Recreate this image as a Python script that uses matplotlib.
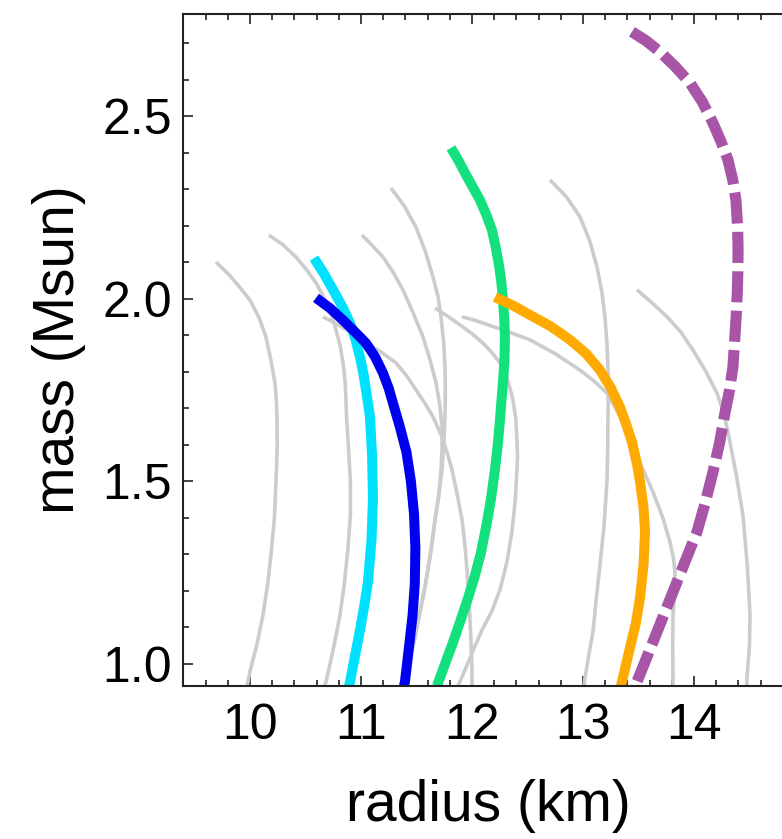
import matplotlib
matplotlib.use("Agg")
import matplotlib.pyplot as plt
from matplotlib.ticker import MultipleLocator

plt.rcParams['font.family'] = ['Liberation Sans', 'DejaVu Sans']

# ---- gray background M-R curves (radius km, mass Msun) ----
g1_r = [9.694, 9.80, 9.90, 10.00, 10.08, 10.144, 10.19, 10.225, 10.238, 10.243, 10.245, 10.240, 10.234,
        10.22, 10.189, 10.16, 10.117, 10.06, 10.00, 9.975]
g1_m = [2.101, 2.07, 2.035, 1.997, 1.95, 1.896, 1.83, 1.770, 1.72, 1.677, 1.60, 1.54, 1.499,
        1.40, 1.299, 1.22, 1.134, 1.05, 0.98, 0.94]
g2_r = [10.171, 10.30, 10.414, 10.51, 10.595, 10.665, 10.721, 10.77, 10.811, 10.838, 10.856, 10.865, 10.870,
        10.89, 10.905, 10.905, 10.883, 10.85, 10.811, 10.75, 10.685, 10.67]
g2_m = [2.175, 2.148, 2.115, 2.08, 2.044, 2.005, 1.970, 1.92, 1.874, 1.826, 1.778, 1.72, 1.677,
        1.58, 1.499, 1.41, 1.318, 1.22, 1.134, 1.04, 0.951, 0.94]
g3_r = [10.658, 10.73, 10.811, 10.93, 11.045, 11.18, 11.315, 11.41, 11.495, 11.575, 11.649, 11.730, 11.78,
        11.820, 11.87, 11.910, 11.935, 11.955, 11.970, 11.982, 11.993, 12.000, 12.0]
g3_m = [1.951, 1.940, 1.926, 1.905, 1.879, 1.855, 1.825, 1.79, 1.751, 1.715, 1.677, 1.622, 1.575,
        1.532, 1.46, 1.395, 1.33, 1.258, 1.19, 1.121, 1.05, 0.984, 0.94]
g4_r = [11.009, 11.10, 11.198, 11.29, 11.378, 11.47, 11.559, 11.625, 11.676, 11.71, 11.730, 11.731, 11.721,
        11.70, 11.667, 11.625, 11.577, 11.53, 11.486, 11.45, 11.423, 11.405]
g4_m = [2.175, 2.147, 2.115, 2.073, 2.025, 1.962, 1.896, 1.83, 1.770, 1.71, 1.649, 1.59, 1.532,
        1.46, 1.395, 1.30, 1.211, 1.14, 1.074, 1.025, 0.984, 0.94]
g5_r = [11.270, 11.39, 11.495, 11.58, 11.649, 11.695, 11.721, 11.745, 11.757, 11.760, 11.757, 11.745, 11.73,
        11.70, 11.667, 11.625, 11.577, 11.53, 11.486, 11.45, 11.423, 11.405]
g5_m = [2.304, 2.255, 2.197, 2.13, 2.060, 2.005, 1.951, 1.88, 1.814, 1.745, 1.677, 1.60, 1.532,
        1.46, 1.395, 1.30, 1.211, 1.14, 1.074, 1.025, 0.984, 0.94]
g6_r = [11.667, 11.78, 11.892, 12.00, 12.099, 12.18, 12.252, 12.32, 12.369, 12.395, 12.405, 12.410, 12.405,
        12.39, 12.360, 12.315, 12.252, 12.18, 12.090, 12.00, 11.910, 11.874]
g6_m = [1.975, 1.953, 1.929, 1.905, 1.879, 1.853, 1.825, 1.78, 1.723, 1.67, 1.614, 1.57, 1.532,
        1.45, 1.362, 1.28, 1.203, 1.145, 1.093, 1.03, 0.964, 0.94]
g7_r = [11.910, 12.00, 12.099, 12.31, 12.523, 12.75, 12.973, 13.10, 13.216, 13.33, 13.423, 13.53, 13.631,
        13.72, 13.784, 13.815, 13.829, 13.825, 13.811, 13.808, 13.811, 13.811]
g7_m = [1.951, 1.944, 1.934, 1.912, 1.888, 1.85, 1.805, 1.775, 1.742, 1.68, 1.608, 1.54, 1.471,
        1.40, 1.334, 1.29, 1.252, 1.19, 1.134, 1.05, 0.962, 0.94]
g8_r = [12.703, 12.85, 12.973, 13.06, 13.126, 13.17, 13.198, 13.215, 13.225, 13.228, 13.225, 13.222, 13.216,
        13.19, 13.153, 13.12, 13.090, 13.05, 13.018, 13.009]
g8_m = [2.326, 2.28, 2.225, 2.16, 2.088, 2.02, 1.951, 1.88, 1.814, 1.74, 1.668, 1.58, 1.499,
        1.38, 1.271, 1.18, 1.088, 1.02, 0.962, 0.94]
g9_r = [13.486, 13.62, 13.757, 13.88, 13.991, 14.11, 14.207, 14.265, 14.306, 14.38, 14.441, 14.48, 14.505,
        14.50, 14.477, 14.477]
g9_m = [2.025, 1.99, 1.951, 1.91, 1.860, 1.80, 1.742, 1.69, 1.636, 1.52, 1.408, 1.27, 1.134,
        1.05, 0.962, 0.94]

# ---- highlighted curves ----
cyan_r = [10.577, 10.665, 10.748, 10.83, 10.901, 10.95, 10.991, 11.022, 11.045, 11.065, 11.081, 11.10, 11.108,
          11.095, 11.063, 11.03, 10.991, 10.945, 10.901, 10.892]
cyan_m = [2.112, 2.07, 2.025, 1.98, 1.934, 1.89, 1.841, 1.795, 1.751, 1.71, 1.677, 1.57, 1.455,
          1.34, 1.225, 1.16, 1.093, 1.02, 0.951, 0.94]
blue_r = [10.595, 10.72, 10.838, 10.945, 11.045, 11.13, 11.198, 11.25, 11.288, 11.35, 11.41, 11.45, 11.478,
          11.49, 11.485, 11.465, 11.43, 11.396, 11.387]
blue_m = [2.003, 1.975, 1.942, 1.91, 1.879, 1.84, 1.797, 1.755, 1.715, 1.65, 1.58, 1.50, 1.41,
          1.318, 1.22, 1.134, 1.04, 0.951, 0.94]
green_r = [11.811, 11.88, 11.946, 12.01, 12.072, 12.13, 12.180, 12.215, 12.243, 12.265, 12.279, 12.292, 12.297,
           12.292, 12.279, 12.265, 12.252, 12.232, 12.207, 12.17, 12.13, 12.08, 12.02, 11.95, 11.83,
           11.694, 11.685]
green_m = [2.414, 2.378, 2.340, 2.305, 2.271, 2.23, 2.189, 2.14, 2.093, 2.045, 1.997, 1.94, 1.888,
           1.83, 1.770, 1.72, 1.668, 1.60, 1.532, 1.45, 1.38, 1.304, 1.235, 1.167, 1.06,
           0.948, 0.94]
orange_r = [12.207, 12.37, 12.523, 12.71, 12.883, 13.03, 13.153, 13.25, 13.333, 13.39, 13.441, 13.485, 13.514,
            13.545, 13.559, 13.545, 13.514, 13.475, 13.423, 13.385, 13.351, 13.342]
orange_m = [2.005, 1.982, 1.956, 1.925, 1.888, 1.85, 1.805, 1.757, 1.704, 1.656, 1.608, 1.55, 1.499,
            1.43, 1.362, 1.27, 1.181, 1.11, 1.044, 0.995, 0.951, 0.94]
purple_r = [13.441, 13.57, 13.694, 13.83, 13.964, 14.075, 14.171, 14.245, 14.306, 14.35, 14.378, 14.393, 14.397,
            14.395, 14.390, 14.380, 14.351, 14.32, 14.279, 14.23, 14.171, 14.10, 14.027, 13.847, 13.667,
            13.486, 13.468]
purple_m = [2.732, 2.707, 2.677, 2.637, 2.592, 2.54, 2.482, 2.43, 2.381, 2.325, 2.271, 2.20, 2.134,
            2.075, 2.016, 1.951, 1.814, 1.75, 1.688, 1.605, 1.526, 1.44, 1.362, 1.225, 1.088,
            0.951, 0.94]

x_ticks = [10, 11, 12, 13, 14]
y_ticks = [1.0, 1.5, 2.0, 2.5]

fig = plt.figure(figsize=(7.82, 8.39), dpi=100)
ax = fig.add_axes([0.2345, 0.1825, 0.7807, 0.8005])

gray_curves = [(g1_r, g1_m), (g2_r, g2_m), (g3_r, g3_m), (g4_r, g4_m), (g5_r, g5_m),
               (g6_r, g6_m), (g7_r, g7_m), (g8_r, g8_m), (g9_r, g9_m)]
for r, m in gray_curves:
    ax.plot(r, m, color='#cccccc', lw=2.6, solid_capstyle='butt', solid_joinstyle='round')

ax.plot(cyan_r, cyan_m, color='#00e1ff', lw=7.2, solid_capstyle='butt', solid_joinstyle='round')
ax.plot(blue_r, blue_m, color='#0000f0', lw=7.2, solid_capstyle='butt', solid_joinstyle='round')
ax.plot(green_r, green_m, color='#14e07e', lw=7.2, solid_capstyle='butt', solid_joinstyle='round')
ax.plot(orange_r, orange_m, color='#ffaa00', lw=7.2, solid_capstyle='butt', solid_joinstyle='round')
ax.plot(purple_r, purple_m, color='#a855a8', lw=8.0, dashes=(2.8, 0.75), dash_capstyle='butt',
        dash_joinstyle='round')

ax.set_xlim(9.4, 14.9)
ax.set_ylim(0.94, 2.78)
ax.set_xticks(x_ticks)
ax.set_yticks(y_ticks)
ax.set_yticklabels([f"{v:.1f}" for v in y_ticks])
ax.xaxis.set_minor_locator(MultipleLocator(0.2))
ax.yaxis.set_minor_locator(MultipleLocator(0.1))

ax.tick_params(which='both', direction='in', top=True, right=True, width=1.2, colors='#222222')
ax.tick_params(which='major', length=7.2, labelsize=36, labelcolor='black')
ax.tick_params(axis='x', which='major', pad=12)
ax.tick_params(axis='y', which='major', pad=8)
ax.tick_params(which='minor', length=4.3)
for s in ax.spines.values():
    s.set_linewidth(1.5)
    s.set_color('#222222')

ax.set_xlabel('radius (km)', fontsize=41, labelpad=22)
ax.set_ylabel('mass (Msun)', fontsize=41, labelpad=12)

fig.savefig('out.png', dpi=100)
